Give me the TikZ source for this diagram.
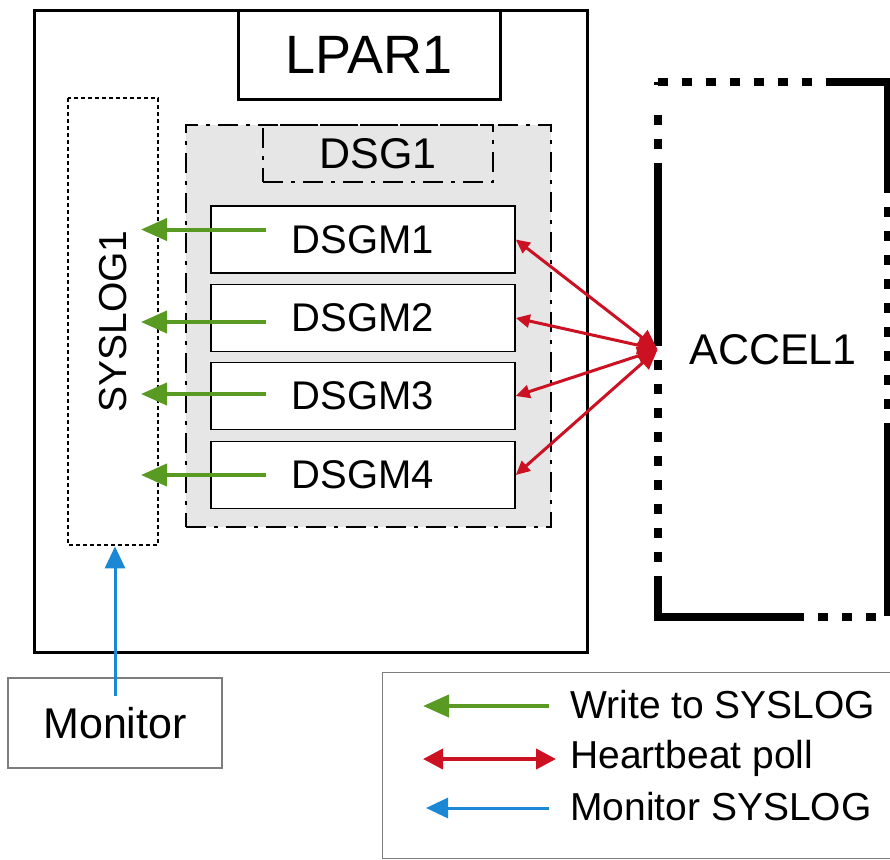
\documentclass[tikz,border=0pt]{standalone}
\usepackage{fontspec}
\setmainfont{Liberation Sans}
\usetikzlibrary{arrows.meta,calc}
\definecolor{wrgreen}{RGB}{88,154,34}
\definecolor{hbred}{RGB}{204,17,34}
\definecolor{monblue}{RGB}{26,136,212}
\definecolor{grpgray}{RGB}{230,230,230}
\definecolor{framegray}{RGB}{125,125,125}
\begin{document}
\begin{tikzpicture}[x=0.5pt,y=-0.5pt,
  box/.style={draw,inner sep=0pt,line width=0.8pt},
  big/.style={font=\fontsize{21.5pt}{24pt}\selectfont},
  dashdot/.style={dash pattern=on 10pt off 4pt on 2pt off 4pt},
  dots/.style={dash pattern=on 2pt off 1.5pt},
  accelline/.style={line width=4pt,dash pattern=
    on 5pt off 7pt on 5pt off 7pt on 5pt off 7pt on 5pt off 7pt on 5pt off 7pt on 5pt off 7pt on 5pt off 7pt
    on 87pt off 7pt
    on 5pt off 7pt on 5pt off 7pt on 5pt off 7pt on 5pt off 7pt on 5pt off 7pt on 5pt off 7pt on 5pt off 7pt
    on 5pt off 7pt on 5pt off 7pt
    on 96.5pt off 7pt
    on 5pt off 7pt on 5pt off 7pt on 5pt off 7pt
    on 94pt off 7pt
    on 5pt off 7pt on 5pt off 7pt on 5pt off 7pt on 5pt off 7pt on 5pt off 7pt on 5pt off 7pt on 5pt off 7pt
    on 5pt off 7pt on 5pt off 7pt
    on 91.5pt off 7pt
    on 5pt off 7pt on 5pt off 15pt},
  wr/.style={wrgreen,line width=2pt,-{Triangle[length=13pt,width=11pt]}},
  hb/.style={hbred,line width=1.5pt,{Triangle[length=7pt,width=6.5pt]}-{Triangle[length=10pt,width=9pt]}},
  hbkey/.style={hbred,line width=2pt,{Triangle[length=10pt,width=10pt]}-{Triangle[length=10pt,width=10pt]}},
  mon/.style={monblue,line width=1.5pt,-{Triangle[length=11pt,width=10pt]}},
  key/.style={anchor=base west,inner sep=0pt,font=\fontsize{19.5pt}{22pt}\selectfont}]
  \useasboundingbox (0,0) rectangle (890,859);
  % partition
  \node[box,line width=1.5pt,minimum width=276.5pt,minimum height=321pt] (lpar) at (310.5,331) {};
  \node[box,line width=1.5pt,fill=white,minimum width=131pt,minimum height=44.5pt,
    font=\fontsize{27pt}{30pt}\selectfont] (title) at (369,54.5) {LPAR1};
  \node[box,dots,line width=1.4pt,rotate=90,minimum width=223.5pt,minimum height=45pt,
    font=\fontsize{19.5pt}{22pt}\selectfont] (sys) at (113,321.5) {SYSLOG1};
  \node[box,dashdot,line width=1.4pt,fill=grpgray,minimum width=182.5pt,minimum height=201pt] (dsg) at (368.5,326) {};
  \node[box,dashdot,line width=1.4pt,minimum width=115pt,minimum height=28.5pt,big] (dsgname) at (378,153.5) {DSG1};
  \foreach \i/\y in {1/239.5,2/318,3/396,4/475}
    \node[box,fill=white,minimum width=152pt,minimum height=33.5pt,
      font=\fontsize{20pt}{23pt}\selectfont] (m\i) at (363,\y) {DSGM\i};
  % accelerator
  \node[inner sep=0pt,minimum width=115pt,minimum height=267.5pt,big] (accel) at (773,349.5) {ACCEL1};
  \draw[accelline] (accel.north west) -- (accel.north east) -- (accel.south east) -- (accel.south west) -- cycle;
  \node[draw=framegray,line width=0.7pt,inner sep=0pt,minimum width=107pt,minimum height=45pt,big] (mon) at (115,723) {Monitor};
  \foreach \i/\dy in {1/5pt,2/-2pt,3/1pt,4/0pt} {
    \draw[wr] ([xshift=28pt,yshift=\dy]m\i.west) -- ($(m\i.west -| sys.center)+(14pt,\dy)$);
    \draw[hb] (m\i.east) -- (accel.west);
  }
  \draw[mon,shorten <=-9.5pt] (mon.north) -- (mon.north |- sys.west);
  % legend
  \node[draw=framegray,line width=0.7pt,inner sep=0pt,anchor=north west,minimum width=260pt,minimum height=93pt] (legend) at (382,672) {};
  \coordinate (k1a) at (549,706); \coordinate (k1b) at (423,706);
  \coordinate (k2a) at (423,759); \coordinate (k2b) at (556,759);
  \coordinate (k3a) at (549,808); \coordinate (k3b) at (426,808);
  \draw[wr] (k1a) -- (k1b);
  \draw[hbkey] (k2a) -- (k2b);
  \draw[mon] (k3a) -- (k3b);
  \node[key] (t1) at (570,718) {Write to SYSLOG};
  \node[key] (t2) at (570,768) {Heartbeat poll};
  \node[key] (t3) at (570,820) {Monitor SYSLOG};
\end{tikzpicture}
\end{document}
